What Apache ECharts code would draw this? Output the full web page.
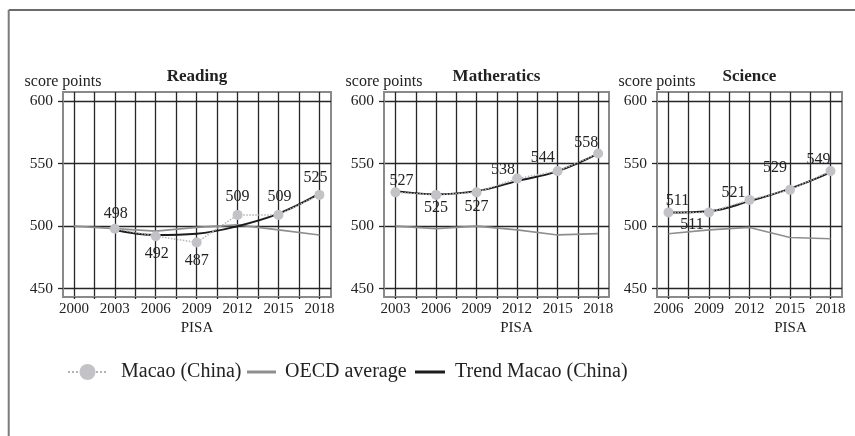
<!DOCTYPE html>
<html><head><meta charset="utf-8">
<script src="https://cdn.jsdelivr.net/npm/echarts@6/dist/echarts.min.js"></script>
<style>html,body{margin:0;padding:0;background:#fff}#c{width:855px;height:436px}</style>
</head><body><div id="c"></div>
<script>
// ---- data ----
const panelTitles = ['Reading', 'Matheratics', 'Science'];
const yTicks = [450, 500, 550, 600];

const readingAxisYears = [2000, 2003, 2006, 2009, 2012, 2015, 2018];
const readingMacaoYears = [2003, 2006, 2009, 2012, 2015, 2018];
const readingMacao = [498, 492, 487, 509, 509, 525];
const readingLabels = ['498', '492', '487', '509', '509', '525'];
const readingOECDYears = [2000, 2003, 2006, 2009, 2012, 2015, 2018];
const readingOECD = [500, 498, 496, 499, 501, 497, 493];
const readingTrend = [497, 493, 494, 500, 510, 526];

const mathAxisYears = [2003, 2006, 2009, 2012, 2015, 2018];
const mathMacaoYears = [2003, 2006, 2009, 2012, 2015, 2018];
const mathMacao = [527, 525, 527, 538, 544, 558];
const mathLabels = ['527', '525', '527', '538', '544', '558'];
const mathOECDYears = [2003, 2006, 2009, 2012, 2015, 2018];
const mathOECD = [500, 498, 500, 497, 493, 494];
const mathTrend = [528, 525.5, 528, 536, 544, 558];

const scienceAxisYears = [2006, 2009, 2012, 2015, 2018];
const scienceMacaoYears = [2006, 2009, 2012, 2015, 2018];
const scienceMacao = [511, 511, 521, 529, 544];
const scienceLabels = ['511', '511', '521', '529', '549'];
const scienceOECDYears = [2006, 2009, 2012, 2015, 2018];
const scienceOECD = [494, 497, 499, 491, 490];
const scienceTrend = [511, 512, 520, 530, 543];

// ---- layout / style (not data) ----
const readingLabelOffsets = [[1, -15], [1, 18], [0, 18], [0, -18], [1, -18], [-4, -17]];
const mathLabelOffsets = [[6, -12], [0, 13], [0, 14], [-14, -9], [-15, -13], [-12, -11]];
const scienceLabelOffsets = [[9, -12], [-17, 12], [-16, -7], [-15, -22], [-12, -11]];

const panels = [
  { axisYears: readingAxisYears, mYears: readingMacaoYears, m: readingMacao, labels: readingLabels, offs: readingLabelOffsets,
    oYears: readingOECDYears, o: readingOECD, t: readingTrend,
    left: 63, width: 268, xmin: 1999.2, xmax: 2018.85, pisaPad: 0 },
  { axisYears: mathAxisYears, mYears: mathMacaoYears, m: mathMacao, labels: mathLabels, offs: mathLabelOffsets,
    oYears: mathOECDYears, o: mathOECD, t: mathTrend,
    left: 384, width: 225, xmin: 2002.15, xmax: 2018.8, pisaPad: 40 },
  { axisYears: scienceAxisYears, mYears: scienceMacaoYears, m: scienceMacao, labels: scienceLabels, offs: scienceLabelOffsets,
    oYears: scienceOECDYears, o: scienceOECD, t: scienceTrend,
    left: 657, width: 185, xmin: 2005.15, xmax: 2018.85, pisaPad: 82 }
];

const FONT = "'Liberation Serif', 'Times New Roman', serif";
const TOP = 92, HEIGHT = 205;
const gridColor = '#262626';

const grid = [], xAxis = [], yAxis = [], series = [], title = [];
panels.forEach((p, i) => {
  grid.push({ left: p.left, top: TOP, width: p.width, height: HEIGHT, show: true,
    borderColor: '#8a8a8a', borderWidth: 2, backgroundColor: 'transparent' });
  const gl = [];
  p.axisYears.forEach((y, k) => {
    gl.push(y);
    if (k < p.axisYears.length - 1) gl.push((y + p.axisYears[k + 1]) / 2);
  });
  xAxis.push({
    type: 'value', gridIndex: i, min: p.xmin, max: p.xmax,
    axisLine: { show: true, lineStyle: { color: '#8a8a8a', width: 2 } },
    axisTick: { show: true, customValues: gl, length: 2, inside: false, lineStyle: { color: gridColor, width: 1.3 } },
    axisLabel: { customValues: p.axisYears, margin: 5, formatter: v => String(v),
      fontFamily: FONT, fontSize: 15, color: '#222' },
    splitLine: { show: true, lineStyle: { color: gridColor, width: 1.3 } },
    name: 'PISA', nameLocation: 'middle', nameGap: 24,
    nameTextStyle: { fontFamily: FONT, fontSize: 15, color: '#222', padding: [0, 0, 0, p.pisaPad] }
  });
  yAxis.push({
    type: 'value', gridIndex: i, min: 443.4, max: 607.2,
    axisLine: { show: true, lineStyle: { color: '#8a8a8a', width: 2 } },
    axisTick: { show: true, customValues: yTicks, length: 5, lineStyle: { color: gridColor, width: 1.3 } },
    axisLabel: { customValues: yTicks, margin: 10, fontFamily: FONT, fontSize: 15.5, color: '#222' },
    splitLine: { show: true, lineStyle: { color: gridColor, width: 1.3 } },
    name: 'score points', nameLocation: 'end', nameGap: 2,
    nameTextStyle: { fontFamily: FONT, fontSize: 16, color: '#222' }
  });
  title.push({
    text: panelTitles[i], left: p.left + p.width / 2, top: 68, textAlign: 'center', padding: 0,
    textStyle: { fontFamily: FONT, fontSize: 17, fontWeight: 'bold', color: '#222' }
  });
  series.push({
    name: 'OECD average', type: 'line', xAxisIndex: i, yAxisIndex: i, z: 3,
    data: p.oYears.map((y, k) => [y, p.o[k]]),
    symbol: 'none', color: '#8e8e8e', lineStyle: { color: '#8e8e8e', width: 1.6 }, silent: true
  });
  series.push({
    name: 'Trend Macao (China)', type: 'line', xAxisIndex: i, yAxisIndex: i, z: 4,
    data: p.mYears.map((y, k) => [y, p.t[k]]), smooth: 0.4,
    symbol: 'none', color: '#1c1c1c', lineStyle: { color: '#1c1c1c', width: 2 }, silent: true
  });
  series.push({
    name: 'Macao (China)', type: 'line', xAxisIndex: i, yAxisIndex: i, z: 5,
    data: p.mYears.map((y, k) => ({ value: [y, p.m[k]],
      label: { show: true, position: 'inside', offset: p.offs[k], formatter: p.labels[k] } })),
    symbol: 'circle', symbolSize: 10, showSymbol: true,
    color: '#c3c3c7', itemStyle: { color: '#c3c3c7' },
    lineStyle: { color: '#b4b4b4', width: 1.5, type: 'dotted' },
    label: { fontFamily: FONT, fontSize: 16, color: '#222' }, silent: true
  });
});

const legendText = { fontFamily: FONT, fontSize: 20, color: '#222' };
const option = {
  animation: false,
  backgroundColor: '#fff',
  title: title,
  grid: grid, xAxis: xAxis, yAxis: yAxis, series: series,
  legend: [
    { data: ['Macao (China)'], left: 67, top: 362, padding: 0, itemWidth: 39, itemHeight: 20,
      textStyle: Object.assign({ padding: [0, 0, 0, 9] }, legendText), selectedMode: false },
    { data: [{ name: 'OECD average', icon: 'rect' }], left: 247, top: 362, padding: 0, itemWidth: 29, itemHeight: 3,
      textStyle: Object.assign({ padding: [0, 0, 0, 4] }, legendText), selectedMode: false },
    { data: [{ name: 'Trend Macao (China)', icon: 'rect' }], left: 415, top: 362, padding: 0, itemWidth: 30, itemHeight: 3,
      textStyle: Object.assign({ padding: [0, 0, 0, 5] }, legendText), selectedMode: false }
  ],
  graphic: [
    { type: 'line', shape: { x1: 8.7, y1: 10, x2: 855, y2: 10 }, style: { stroke: '#3a3a3a', lineWidth: 1.3 }, silent: true },
    { type: 'line', shape: { x1: 8.7, y1: 10, x2: 8.7, y2: 436 }, style: { stroke: '#7a7a7a', lineWidth: 2 }, silent: true }
  ]
};
const chart = echarts.init(document.getElementById('c'), null, { renderer: 'canvas' });
chart.setOption(option);
</script>
</body></html>
